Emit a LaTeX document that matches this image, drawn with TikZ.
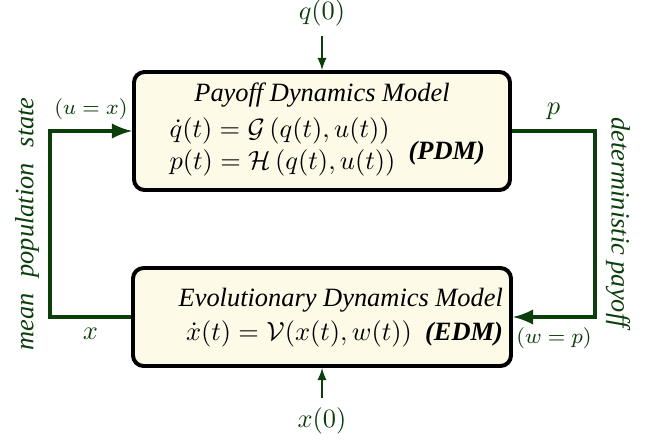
\documentclass[tikz,border=0pt]{standalone}
\usepackage{fontspec}
\setmainfont{Liberation Serif}
\usetikzlibrary{positioning}
\definecolor{dgreen}{RGB}{12,62,12}
\definecolor{cream}{RGB}{254,250,232}
\def\pxu{0.0133cm}
\begin{document}
\begin{tikzpicture}[x=\pxu,y=-\pxu]
\tikzset{blk/.style={draw,line width=1.5pt,rounded corners=4pt,fill=cream},
fb/.style={->,>=latex,draw=dgreen,line width=1.6pt},
inp/.style={->,>=latex,draw=dgreen,line width=0.6pt},
lbl/.style={text=dgreen},
}
\useasboundingbox (0,0) rectangle (650,443);

\node[blk,align=center,minimum width=376*\pxu,minimum height=118*\pxu] (pdm) at (322,131)
  {\textit{Payoff Dynamics Model}\\[2pt]
   \hspace*{4pt}$\begin{array}{@{}l@{}}\dot q(t)=\mathcal{G}\left(q(t),u(t)\right)\\ p(t)=\mathcal{H}\left(q(t),u(t)\right)\end{array}$\enspace\raisebox{-2pt}{\textbf{\textit{(PDM)}}}};
\node[blk,inner xsep=0pt,minimum width=378*\pxu,minimum height=98*\pxu] (edm) at (322,317)
  {\hspace*{0.5cm}\begin{tabular}{@{}r@{}}\textit{Evolutionary Dynamics Model}\\[1pt]
   $\dot x(t)=\mathcal{V}(x(t),w(t))$\ \ \textbf{\textit{(EDM)}}\end{tabular}};

\node[lbl] (q0) at (322,13) {$q(0)$};
\node[lbl] (x0) at (322,421) {$x(0)$};
\coordinate (lft) at (50,0);
\coordinate (rgt) at (595,0);

\path[inp] (q0) -- (pdm.north);
\path[inp] (x0) -- (edm.south);

\path[fb] (edm.west) -- node[lbl,below] {$x$} (edm.west -| lft)
  -- node[lbl,rotate=90,above] {\textit{mean\hspace{0.6em}population\hspace{0.6em}state}} (pdm.west -| lft)
  -- node[lbl,above] {\footnotesize$(u=x)$} (pdm.west);
\path[fb] (pdm.east) -- node[lbl,above] {$p$} (pdm.east -| rgt)
  -- node[lbl,rotate=-90,above] {\textit{deterministic payoff}} (edm.east -| rgt)
  -- node[lbl,below] {\footnotesize$(w=p)$} (edm.east);

\end{tikzpicture}
\end{document}
